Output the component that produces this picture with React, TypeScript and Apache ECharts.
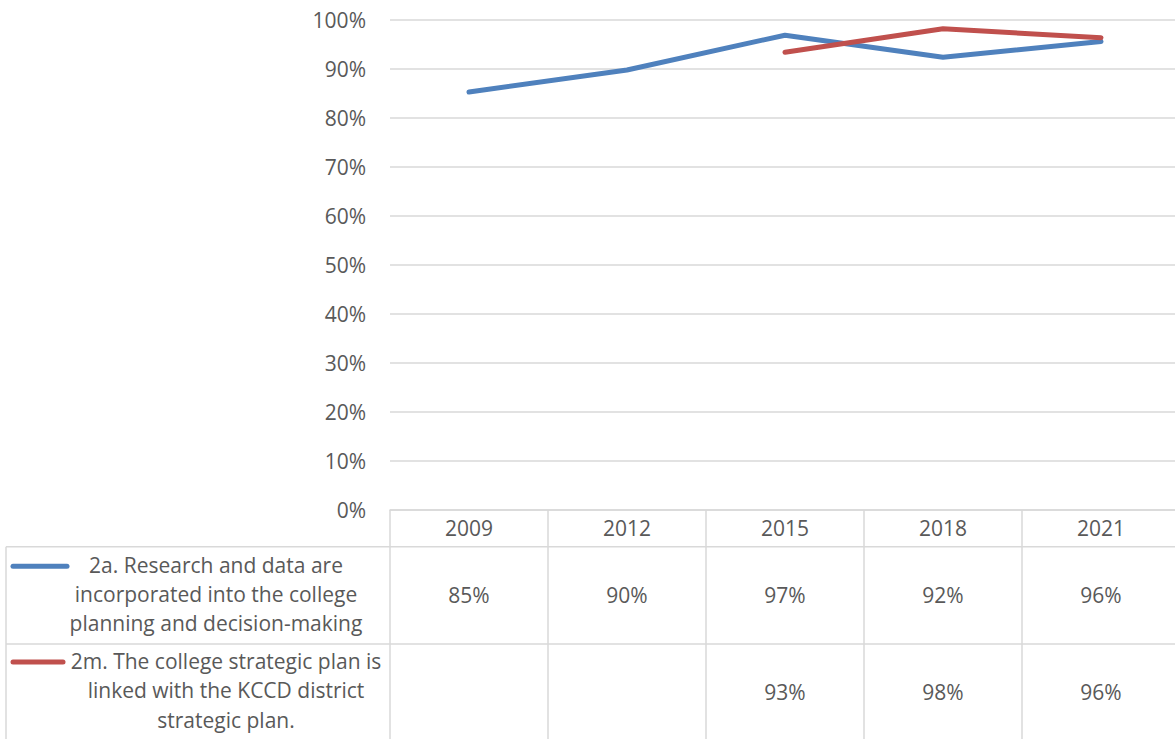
import React, { useEffect, useRef } from "react";
import * as echarts from "echarts";

const categories = ["2009", "2012", "2015", "2018", "2021"];
const seriesANameLines = ["2a. Research and data are", "incorporated into the college", "planning and decision-making"];
const seriesMNameLines = ["2m. The college strategic plan is", "linked with the KCCD district", "strategic plan."];
const seriesA: (number | null)[] = [85.3, 89.8, 96.9, 92.4, 95.6];
const seriesM: (number | null)[] = [null, null, 93.4, 98.2, 96.4];
const yMin = 0;
const yMax = 100;
const yStep = 10;

const BLUE = "#4f81bd";
const RED = "#c0504d";
const TEXT = "#595959";
const GRID = "#d9d9d9";
const FONT = "'Open Sans', sans-serif";

const fmt = (v: number | null) => (v == null ? " " : `${Math.round(v)}%`);

export default function App() {
  const ref = useRef<HTMLDivElement>(null);
  useEffect(() => {
    if (!ref.current) return;
    const chart = echarts.init(ref.current, undefined, { renderer: "svg" });
    const W = 1175;
    const H = 739;
    const gridTop = 20;
    const gridBottom = 229;
    const axisY = H - gridBottom;
    const headerH = 36.7;
    const row1H = 97.3;
    const row2H = 95;
    const row1Top = axisY + headerH;
    const row2Top = row1Top + row1H;
    const fs = 21;
    chart.setOption({
      animation: false,
      textStyle: { fontFamily: FONT },
      grid: { left: 390, top: gridTop, width: 790, bottom: gridBottom, containLabel: false },
      xAxis: {
        type: "category",
        data: categories,
        boundaryGap: true,
        axisLine: { show: true, lineStyle: { color: GRID, width: 1.5 } },
        axisTick: { show: true, interval: 0, length: gridBottom, alignWithLabel: false, lineStyle: { color: GRID, width: 1.5 } },
        axisLabel: {
          interval: 0,
          margin: 0,
          color: TEXT,
          fontFamily: FONT,
          fontSize: fs,
          formatter: (value: string, idx: number) =>
            `{h|${value}}\n{v|${fmt(seriesA[idx])}}\n{w|${fmt(seriesM[idx])}}`,
          rich: {
            h: { lineHeight: headerH, fontSize: fs, color: TEXT, fontFamily: FONT },
            v: { lineHeight: row1H, fontSize: fs, color: TEXT, fontFamily: FONT },
            w: { lineHeight: row2H, fontSize: fs, color: TEXT, fontFamily: FONT },
          },
        },
      },
      yAxis: {
        type: "value",
        min: yMin,
        max: yMax,
        interval: yStep,
        axisLine: { show: false },
        axisTick: { show: false },
        splitLine: { lineStyle: { color: GRID, width: 1.5 } },
        axisLabel: { margin: 24, color: TEXT, fontSize: fs, fontFamily: FONT, formatter: (v: number) => `${v}%` },
      },
      series: [
        {
          name: seriesANameLines.join(" "),
          type: "line",
          data: seriesA,
          showSymbol: false,
          symbol: "none",
          lineStyle: { color: BLUE, width: 5, cap: "round", join: "round" },
          itemStyle: { color: BLUE },
        },
        {
          name: seriesMNameLines.join(" "),
          type: "line",
          data: seriesM,
          showSymbol: false,
          symbol: "none",
          connectNulls: false,
          lineStyle: { color: RED, width: 5, cap: "round", join: "round" },
          itemStyle: { color: RED },
        },
      ],
      graphic: [
        { type: "line", shape: { x1: 6, y1: row1Top, x2: W, y2: row1Top }, style: { stroke: GRID, lineWidth: 1.5 } },
        { type: "line", shape: { x1: 6, y1: row2Top, x2: W, y2: row2Top }, style: { stroke: GRID, lineWidth: 1.5 } },
        { type: "line", shape: { x1: 6, y1: row1Top, x2: 6, y2: H }, style: { stroke: GRID, lineWidth: 1.5 } },
        { type: "line", shape: { x1: 13, y1: row1Top + 19.5, x2: 67, y2: row1Top + 19.5 }, style: { stroke: BLUE, lineWidth: 5, lineCap: "round" } },
        { type: "line", shape: { x1: 13, y1: row2Top + 18, x2: 63, y2: row2Top + 18 }, style: { stroke: RED, lineWidth: 5, lineCap: "round" } },
        {
          type: "text",
          x: 216,
          y: row1Top + 4,
          style: { text: seriesANameLines.join("\n"), fill: TEXT, font: `${fs}px ${FONT}`, fontSize: fs, fontFamily: FONT, textAlign: "center", textVerticalAlign: "top", lineHeight: 29 },
        },
        {
          type: "text",
          x: 226,
          y: row2Top + 2,
          style: { text: seriesMNameLines.join("\n"), fill: TEXT, font: `${fs}px ${FONT}`, fontSize: fs, fontFamily: FONT, textAlign: "center", textVerticalAlign: "top", lineHeight: 29.5 },
        },
      ],
    });
    return () => chart.dispose();
  }, []);
  return (
    <div style={{ position: "absolute", left: 0, top: 0, width: 1175, height: 739, overflow: "hidden" }}>
      <div ref={ref} style={{ width: 1185, height: 739 }} />
    </div>
  );
}
